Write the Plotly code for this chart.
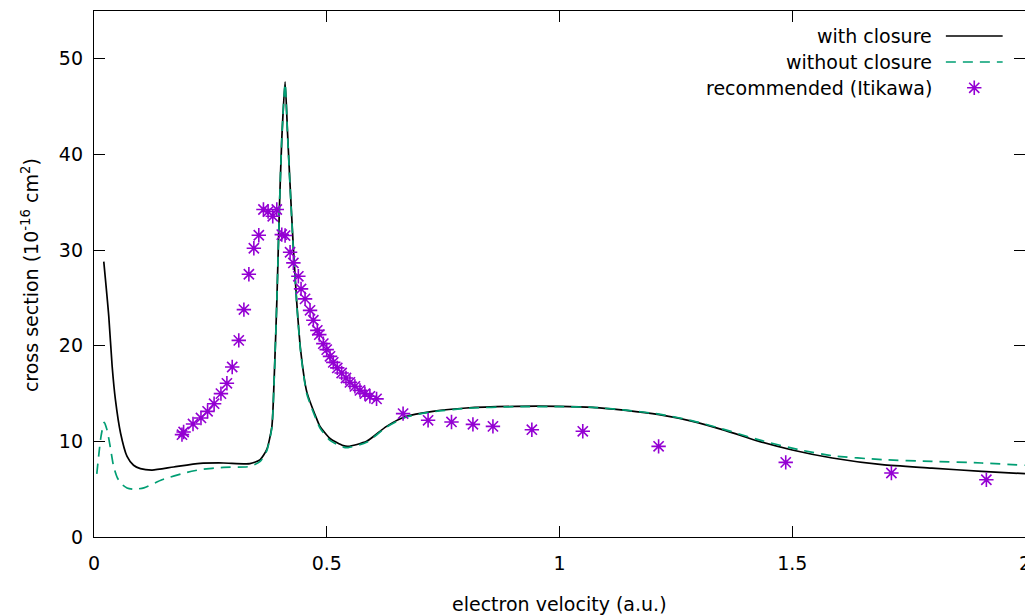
import plotly.graph_objects as go

# ---------------- data ----------------
with_x = [0.021, 0.0317, 0.039, 0.046, 0.057, 0.071, 0.085, 0.0997, 0.125, 0.171, 0.228, 0.278,
          0.335, 0.357, 0.371, 0.382, 0.387, 0.393, 0.398, 0.4034, 0.4105, 0.416, 0.421, 0.428,
          0.4356, 0.444, 0.457, 0.478, 0.4855, 0.507, 0.5355, 0.546, 0.5856, 0.6285, 0.671,
          0.728, 0.80, 0.907, 1.0, 1.071, 1.143, 1.214, 1.286, 1.357, 1.429, 1.5, 1.586,
          1.693, 1.80, 1.907, 2.0]
with_y = [28.8, 23.1, 17.85, 14.36, 10.88, 8.43, 7.5, 7.15, 7.0, 7.32, 7.7, 7.74,
          7.67, 8.09, 9.13, 11.5, 16.5, 25.0, 33.9, 41.6, 47.6, 42.0, 37.0, 30.5,
          24.5, 19.5, 15.2, 12.4, 11.57, 10.3, 9.55, 9.48, 10.0, 11.57, 12.62,
          13.14, 13.49, 13.66, 13.66, 13.56, 13.24, 12.79, 12.09, 11.12, 10.0, 9.1, 8.26,
          7.56, 7.21, 6.86, 6.62]

without_x = [0.006, 0.015, 0.022, 0.028, 0.035, 0.042, 0.05, 0.06, 0.071, 0.085, 0.107, 0.146,
             0.2, 0.228, 0.278, 0.335, 0.357, 0.371, 0.382, 0.387, 0.393, 0.398, 0.4034, 0.4105,
             0.416, 0.421, 0.428, 0.4356, 0.444, 0.457, 0.478, 0.4855, 0.507, 0.5355, 0.546,
             0.5856, 0.6285, 0.671, 0.728, 0.80, 0.907, 1.0, 1.071, 1.143, 1.214, 1.286,
             1.357, 1.429, 1.514, 1.586, 1.693, 1.80, 1.907, 2.0]
without_y = [6.6, 10.5, 12.0, 11.2, 9.4, 7.4, 6.2, 5.5, 5.13, 5.0, 5.13, 5.99,
             6.76, 7.04, 7.28, 7.38, 7.9, 9.0, 11.4, 16.4, 25.0, 33.9, 41.6, 47.4,
             41.8, 36.8, 30.3, 24.3, 19.3, 15.0, 12.2, 11.4, 10.1, 9.4, 9.35,
             9.9, 11.5, 12.55, 13.1, 13.45, 13.63, 13.63, 13.56, 13.26, 12.85, 12.15,
             11.2, 10.15, 9.13, 8.5, 8.09, 7.91, 7.74, 7.5]

itikawa_x = [0.189, 0.1925, 0.2127, 0.2298, 0.244, 0.258, 0.2727, 0.2855, 0.2969, 0.311,
             0.322, 0.3327, 0.3434, 0.354, 0.364, 0.374, 0.384, 0.3927, 0.4034, 0.4105,
             0.4212, 0.4283, 0.439, 0.4448, 0.4534, 0.4641, 0.4712, 0.4797, 0.484, 0.4926,
             0.4999, 0.507, 0.514, 0.5226, 0.532, 0.5413, 0.5498, 0.5605, 0.5713, 0.582,
             0.5927, 0.607, 0.664, 0.7177, 0.768, 0.814, 0.857, 0.9406, 1.05, 1.2129,
             1.486, 1.713, 1.917]
itikawa_y = [10.70, 10.98, 11.82, 12.45, 13.14, 13.94, 14.99, 16.07, 17.78, 20.56,
             23.78, 27.47, 30.19, 31.55, 34.24, 34.03, 33.54, 34.24, 31.62, 31.52,
             29.77, 28.66, 27.26, 25.94, 24.90, 23.70, 22.66, 21.61, 21.16, 20.22,
             19.59, 18.89, 18.26, 17.68, 17.15, 16.63, 16.17, 15.75, 15.33, 14.99,
             14.71, 14.44, 12.90, 12.20, 12.03, 11.78, 11.57, 11.22, 11.05, 9.48,
             7.80, 6.69, 5.99]

series_names = ["with closure", "without closure", "recommended (Itikawa)"]
x_ticks = [0, 0.5, 1, 1.5, 2]
x_tick_text = ["0", "0.5", "1", "1.5", "2"]
y_ticks = [0, 10, 20, 30, 40, 50]

# ---------------- style ----------------
FONT = "DejaVu Sans"
FS = 19
BLACK = "#000000"
GREEN = "#009e73"
PURPLE = "#9400d3"
MARKER = dict(symbol="asterisk-open", size=12, color=PURPLE, line=dict(color=PURPLE, width=1.6))

# legend layout (paper fraction of the plot area)
LEG_TEXT_X = 0.9026
LEG_SAMPLE_X0, LEG_SAMPLE_X1 = 0.915, 0.976
LEG_ROWS_Y = [0.9525, 0.903, 0.854]

fig = go.Figure()

fig.add_trace(go.Scatter(x=with_x, y=with_y, mode="lines", name=series_names[0],
                         line=dict(color=BLACK, width=1.7, shape="spline", smoothing=0.6),
                         showlegend=False))
fig.add_trace(go.Scatter(x=without_x, y=without_y, mode="lines", name=series_names[1],
                         line=dict(color=GREEN, width=1.7, dash="10px,7px", shape="spline", smoothing=0.6),
                         showlegend=False))
fig.add_trace(go.Scatter(x=itikawa_x, y=itikawa_y, mode="markers", name=series_names[2],
                         marker=MARKER, showlegend=False))

# legend samples on an overlay axis spanning [0,1]
fig.add_trace(go.Scatter(x=[LEG_SAMPLE_X0, LEG_SAMPLE_X1], y=[LEG_ROWS_Y[0]] * 2, mode="lines",
                         line=dict(color=BLACK, width=1.7), xaxis="x2", yaxis="y2",
                         showlegend=False, hoverinfo="skip"))
fig.add_trace(go.Scatter(x=[LEG_SAMPLE_X0, LEG_SAMPLE_X1], y=[LEG_ROWS_Y[1]] * 2, mode="lines",
                         line=dict(color=GREEN, width=1.7, dash="10px,7px"), xaxis="x2", yaxis="y2",
                         showlegend=False, hoverinfo="skip"))
fig.add_trace(go.Scatter(x=[(LEG_SAMPLE_X0 + LEG_SAMPLE_X1) / 2], y=[LEG_ROWS_Y[2]], mode="markers",
                         marker=MARKER, xaxis="x2", yaxis="y2", showlegend=False, hoverinfo="skip"))

annotations = []
for name, yy in zip(series_names, LEG_ROWS_Y):
    annotations.append(dict(text=name, x=LEG_TEXT_X, y=yy, xref="paper", yref="paper",
                            xanchor="right", yanchor="middle", showarrow=False,
                            font=dict(family=FONT, size=FS, color=BLACK)))
annotations.append(dict(text="electron velocity (a.u.)", x=0.5005, y=-0.127, xref="paper", yref="paper",
                        xanchor="center", yanchor="middle", showarrow=False,
                        font=dict(family=FONT, size=FS, color=BLACK)))
annotations.append(dict(text="cross section (10<sup>-16</sup> cm<sup>2</sup>)", x=-0.0687, y=0.498,
                        xref="paper", yref="paper", xanchor="center", yanchor="middle",
                        textangle=-90, showarrow=False,
                        font=dict(family=FONT, size=FS, color=BLACK)))

axis_common = dict(showgrid=False, zeroline=False, showline=True, linecolor=BLACK, linewidth=1.3,
                   mirror="allticks", ticks="inside", ticklen=11, tickwidth=1.3, tickcolor=BLACK,
                   automargin=False,
                   tickfont=dict(family=FONT, size=FS, color=BLACK))

# the page body has an 8px margin, so the figure is sized/margined to compensate
fig.update_layout(
    width=1025, height=608,
    margin=dict(l=86, r=8, t=3, b=79, autoexpand=False),
    paper_bgcolor="white", plot_bgcolor="white",
    xaxis=dict(range=[0, 2], tickvals=x_ticks, ticktext=x_tick_text, ticklabelstandoff=9, **axis_common),
    yaxis=dict(range=[0, 55], tickvals=y_ticks, ticklabelstandoff=6, **axis_common),
    xaxis2=dict(overlaying="x", range=[0, 1], visible=False),
    yaxis2=dict(overlaying="y", range=[0, 1], visible=False),
    annotations=annotations,
    showlegend=False,
)

fig.write_html("out.html")
